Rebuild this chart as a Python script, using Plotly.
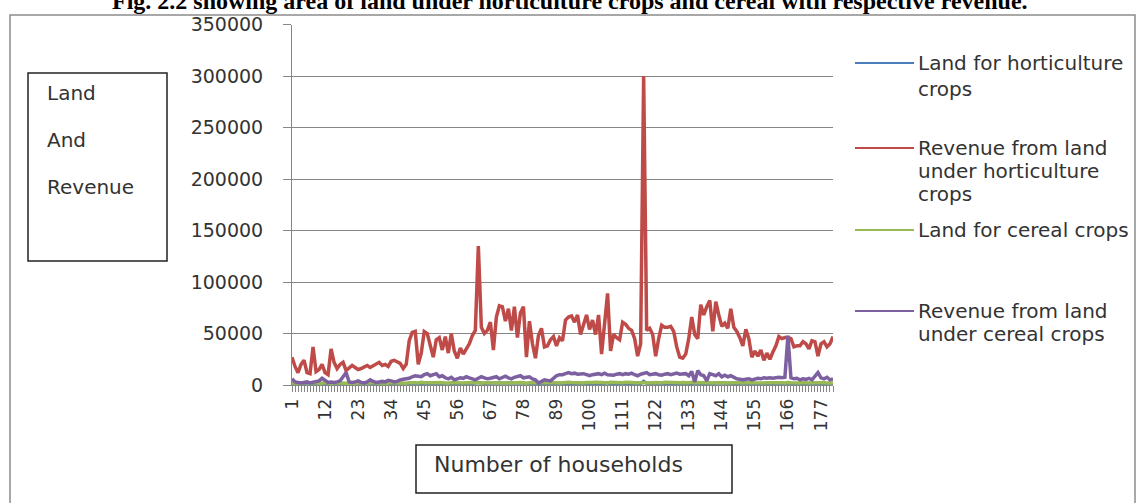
import plotly.graph_objects as go

W, H = 1142, 503

# Household index (category axis)
households = list(range(1, 182))
tick_labels = [1, 12, 23, 34, 45, 56, 67, 78, 89, 100, 111, 122, 133, 144, 155, 166, 177]

series_names = [
    "Land for horticulture crops",
    "Revenue from land under horticulture crops",
    "Land for cereal crops",
    "Revenue from land under cereal crops",
]

land_horticulture = [
    1000, 800, 1200, 900, 1100, 700, 1300, 1000, 800, 1200,
    900, 1100, 1000, 1400, 1200, 800, 1000, 1300, 900, 1100,
    1000, 1200, 800, 1100, 900, 1300, 1000, 1200, 1100, 900,
    1200, 1000, 1300, 1100, 900, 1200, 1000, 800, 1100, 1500,
    1600, 1700, 900, 1300, 1700, 1600, 1400, 1100, 1500, 1600,
    1200, 1500, 1100, 1600, 1200, 1000, 1300, 1100, 1200, 1400,
    1500, 1600, 2500, 1700, 1600, 1700, 1800, 1200, 1900, 2000,
    2000, 1800, 1900, 1600, 2000, 1500, 1900, 2000, 1000, 1800,
    1400, 1000, 1500, 1700, 1200, 1300, 1400, 1500, 1300, 1500,
    1400, 1800, 1900, 1900, 1800, 1900, 1500, 1700, 1900, 1600,
    1800, 1500, 1900, 1000, 1700, 2200, 1100, 1500, 1400, 1300,
    1700, 1700, 1600, 1600, 1400, 1000, 1300, 3500, 1600, 1600,
    1500, 1000, 1400, 1700, 1600, 1600, 1700, 1600, 1200, 1000,
    1000, 1100, 1500, 1800, 1400, 1300, 2000, 1800, 1900, 2100,
    1500, 2100, 1800, 1600, 1700, 1700, 1900, 1600, 1500, 1400,
    1200, 1500, 1300, 1000, 1100, 1000, 1100, 900, 1000, 900,
    1000, 1200, 1300, 1300, 1300, 1300, 1300, 1100, 1100, 1100,
    1200, 1100, 1000, 1200, 1200, 900, 1100, 1200, 1000, 1100, 1300,
]

revenue_horticulture = [
    27000, 18000, 12000, 20000, 24000, 12000, 11000, 37000, 13000, 15000,
    20000, 12000, 10000, 35000, 22000, 16000, 20000, 22000, 14000, 17000,
    19000, 17000, 15000, 16000, 18000, 19000, 17000, 19000, 20000, 22000,
    19000, 20000, 18000, 23000, 24000, 22000, 21000, 16000, 20000, 43000,
    51000, 52000, 20000, 31000, 52000, 50000, 37000, 27000, 44000, 46000,
    34000, 47000, 31000, 50000, 33000, 26000, 36000, 30000, 35000, 40000,
    48000, 53000, 135000, 56000, 50000, 53000, 61000, 34000, 66000, 77000,
    76000, 62000, 74000, 53000, 76000, 46000, 70000, 76000, 27000, 62000,
    40000, 26000, 48000, 55000, 37000, 38000, 44000, 47000, 38000, 46000,
    43000, 63000, 66000, 67000, 61000, 68000, 49000, 60000, 68000, 54000,
    63000, 49000, 68000, 30000, 58000, 89000, 33000, 49000, 46000, 44000,
    61000, 59000, 55000, 53000, 45000, 28000, 40000, 300000, 53000, 55000,
    49000, 28000, 45000, 58000, 56000, 56000, 57000, 52000, 37000, 27000,
    26000, 30000, 45000, 66000, 49000, 45000, 78000, 68000, 76000, 82000,
    52000, 81000, 68000, 57000, 60000, 55000, 74000, 56000, 52000, 46000,
    38000, 54000, 45000, 27000, 33000, 28000, 34000, 24000, 31000, 25000,
    32000, 38000, 47000, 45000, 46000, 46000, 45000, 37000, 38000, 38000,
    42000, 40000, 35000, 43000, 42000, 28000, 40000, 42000, 37000, 40000, 47000,
]

land_cereal = [
    2000, 1800, 2200, 1600, 2400, 2000, 1700, 2300, 1900, 2100,
    1800, 2500, 2000, 1600, 2200, 1900, 2400, 2100, 1700, 2000,
    2300, 1800, 2000, 2200, 1600, 2100, 1900, 2400, 2000, 1800,
    2200, 2000, 1700, 2300, 2100, 1900, 2500, 2000, 1800, 2200,
    2400, 2100, 1900, 2600, 2200, 2000, 2300, 1800, 2100, 2500,
    2000, 2200, 1800, 2400, 2100, 1900, 2300, 2000, 2200, 1800,
    2100, 2500, 2000, 1700, 2300, 2200, 1900, 2400, 2000, 2100,
    1800, 2200, 2000, 2300, 1900, 2100, 2400, 2000, 1800, 2200,
    2300, 2000, 2500, 2200, 1900, 2400, 2100, 2600, 2300, 2000,
    2500, 2200, 2700, 2400, 2100, 2600, 2300, 2000, 2500, 2200,
    2400, 2700, 2200, 2500, 2300, 2000, 2600, 2400, 2200, 2500,
    2300, 2600, 2100, 2400, 2200, 2500, 2700, 2300, 2000, 2400,
    2200, 2500, 2300, 2000, 2600, 2400, 2100, 2500, 2300, 2200,
    2400, 2100, 2300, 2600, 2000, 2400, 2200, 2500, 2100, 2300,
    2000, 2300, 2100, 1900, 2400, 2200, 2000, 2300, 1800, 2100,
    1900, 2200, 2000, 2400, 2100, 1800, 2300, 2000, 2200, 1900,
    2100, 2300, 1900, 2200, 2000, 2500, 2100, 1800, 2200, 2000,
    2300, 2000, 2200, 1900, 2100, 2400, 2000, 2200, 1900, 2100, 2000,
]

revenue_cereal = [
    6000, 3000, 2500, 2000, 2500, 3000, 2000, 2500, 3000, 4000,
    6500, 4000, 2500, 3000, 2500, 3000, 4000, 8000, 12000, 3000,
    2500, 3000, 4000, 2500, 2000, 3000, 5000, 3500, 2500, 3000,
    3500, 3000, 4500, 4000, 3000, 3500, 5000, 5500, 6000, 6500,
    8000, 9000, 8500, 8000, 10000, 11000, 9000, 10000, 11000, 8000,
    9000, 7000, 6000, 7500, 5000, 6000, 7000, 6500, 8000, 7000,
    6000, 5000, 6500, 8000, 7000, 6000, 6500, 7500, 8000, 6000,
    7000, 8500, 7000, 6000, 7500, 8000, 9000, 7000, 7500, 8000,
    6000, 5000, 2000, 4000, 5000, 4500, 4000, 6500, 9000, 10000,
    10000, 11000, 12000, 11000, 11500, 10500, 11000, 11000, 10000, 9000,
    10000, 10500, 11000, 10000, 11500, 10000, 10000, 9500, 10500, 11000,
    10000, 11000, 10500, 11500, 10000, 9000, 10500, 11000, 12000, 10000,
    10500, 11000, 10000, 9500, 10500, 11000, 10000, 11000, 11500, 10500,
    10500, 11000, 9000, 13000, 3000, 14000, 10000, 9000, 4000, 11000,
    10000, 9000, 11000, 8000, 9500, 8000, 9000, 7000, 6000, 5500,
    5000, 5500, 6000, 5000, 6000, 6500, 6000, 7000, 6500, 7000,
    6500, 7000, 7500, 7000, 7500, 48000, 7000, 6000, 6500, 5000,
    6000, 5500, 6500, 5000, 8000, 12000, 7000, 6000, 7500, 5000, 6000,
]

series_values = [land_horticulture, revenue_horticulture, land_cereal, revenue_cereal]
series_colors = ["#4A7EBB", "#BE4B48", "#98B954", "#7D60A0"]

# legend text, one entry per line of wrapped label
legend_lines = [
    ["Land for horticulture", "crops"],
    ["Revenue from land", "under horticulture", "crops"],
    ["Land for cereal crops"],
    ["Revenue from land", "under cereal crops"],
]


def px(x):
    return x / W


def py(y):
    return 1 - y / H


FONT = "DejaVu Sans"
TEXT = "#333333"
GRID = "#868686"

fig = go.Figure()
for name, vals, col in zip(series_names, series_values, series_colors):
    fig.add_trace(go.Scatter(
        x=households, y=vals, mode="lines", name=name,
        line=dict(color=col, width=3.5), showlegend=False,
    ))

fig.update_layout(
    width=W, height=H,
    margin=dict(l=0, r=0, t=0, b=0, autoexpand=False),
    paper_bgcolor="white", plot_bgcolor="white",
    xaxis=dict(
        domain=[px(292), px(833)],
        range=[1, 181],
        automargin=False,
        tickmode="array", tickvals=tick_labels,
        ticktext=[str(t) for t in tick_labels],
        tickangle=-90,
        tickfont=dict(family=FONT, size=17, color=TEXT),
        ticks="outside", ticklen=6, tickcolor=GRID,
        minor=dict(tickmode="linear", tick0=1, dtick=1, ticks="outside",
                   ticklen=6, tickcolor=GRID, showgrid=False),
        showline=True, linecolor=GRID, linewidth=1,
        showgrid=False, zeroline=False,
    ),
    yaxis=dict(
        domain=[py(385), py(24.5)],
        range=[0, 350000],
        automargin=False,
        tickmode="linear", tick0=0, dtick=50000,
        tickformat="d",
        tickfont=dict(family=FONT, size=19, color=TEXT),
        ticks="outside", ticklen=8, tickcolor=GRID,
        ticklabelstandoff=16,
        showline=True, linecolor=GRID, linewidth=1,
        showgrid=True, gridcolor=GRID, gridwidth=1,
        zeroline=False,
    ),
)

shapes = [
    # chart frame
    dict(type="rect", xref="paper", yref="paper",
         x0=px(10), x1=px(1135), y0=py(515), y1=py(15),
         line=dict(color="#8C8C8C", width=1.5)),
    # y-axis caption box
    dict(type="rect", xref="paper", yref="paper",
         x0=px(28), x1=px(167), y0=py(261), y1=py(73),
         line=dict(color="#222222", width=1.5)),
    # x-axis caption box
    dict(type="rect", xref="paper", yref="paper",
         x0=px(416), x1=px(732), y0=py(493), y1=py(445),
         line=dict(color="#222222", width=1.5)),
]

annotations = [
    dict(text="<b>Fig. 2.2 showing area of land under horticulture crops and cereal with respective revenue.</b>",
         x=px(570), y=py(1), xref="paper", yref="paper", showarrow=False,
         xanchor="center", yanchor="middle",
         font=dict(family="Liberation Serif", size=24, color="#000000")),
    dict(text="Number of households", x=px(432), y=py(464), xref="paper", yref="paper",
         showarrow=False, xanchor="left", yanchor="middle",
         font=dict(family=FONT, size=22, color=TEXT)),
]
for word, yy in zip(["Land", "And", "Revenue"], [93, 140, 187]):
    annotations.append(dict(text=word, x=px(45), y=py(yy), xref="paper", yref="paper",
                            showarrow=False, xanchor="left", yanchor="middle",
                            font=dict(family=FONT, size=20, color=TEXT)))

# legend drawn at the right side
legend_rows = [[63, 89], [148, 171, 194], [230], [311, 334]]
for lines, rows, col in zip(legend_lines, legend_rows, series_colors):
    shapes.append(dict(type="line", xref="paper", yref="paper",
                       x0=px(855), x1=px(914), y0=py(rows[0]), y1=py(rows[0]),
                       line=dict(color=col, width=2)))
    for txt, yy in zip(lines, rows):
        annotations.append(dict(text=txt, x=px(916), y=py(yy), xref="paper", yref="paper",
                                showarrow=False, xanchor="left", yanchor="middle",
                                font=dict(family=FONT, size=20, color=TEXT)))

fig.update_layout(shapes=shapes, annotations=annotations)
fig.write_html("out.html")
